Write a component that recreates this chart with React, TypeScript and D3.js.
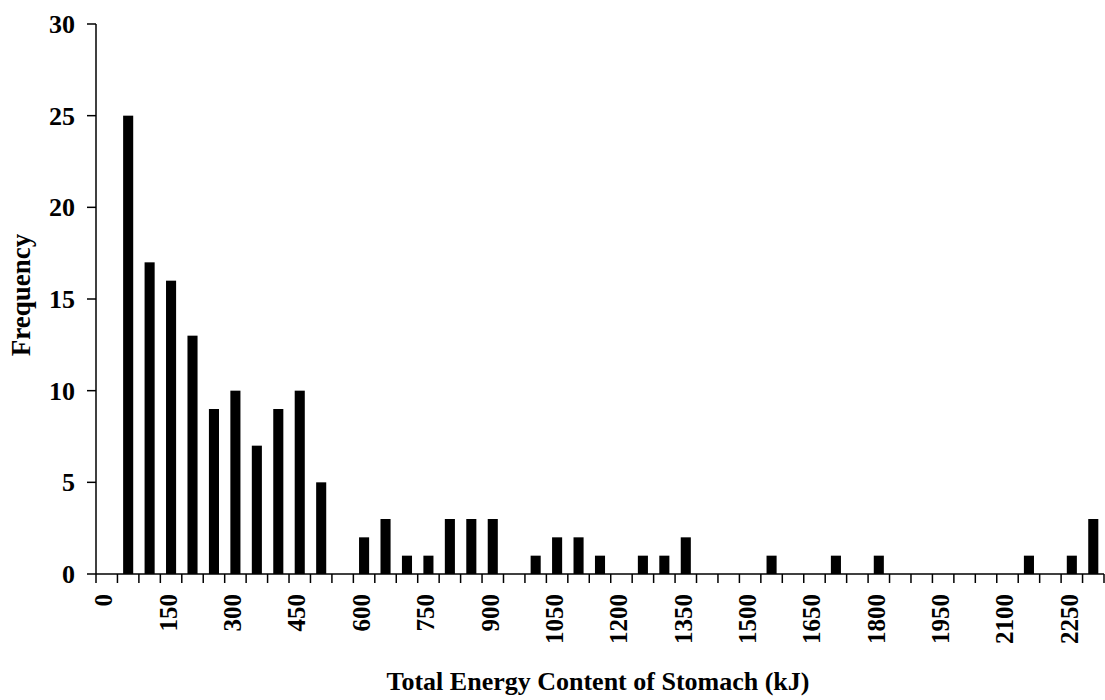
import React from "react";
import * as d3 from "d3";

const categories: number[] = [
  0, 50, 100, 150, 200, 250, 300, 350, 400, 450, 500, 550, 600, 650, 700, 750,
  800, 850, 900, 950, 1000, 1050, 1100, 1150, 1200, 1250, 1300, 1350, 1400,
  1450, 1500, 1550, 1600, 1650, 1700, 1750, 1800, 1850, 1900, 1950, 2000, 2050,
  2100, 2150, 2200, 2250, 2300,
];
const frequencies: number[] = [
  0, 25, 17, 16, 13, 9, 10, 7, 9, 10, 5, 0, 2, 3, 1, 1, 3, 3, 3, 0, 1, 2, 2, 1,
  0, 1, 1, 2, 0, 0, 0, 1, 0, 0, 1, 0, 1, 0, 0, 0, 0, 0, 0, 1, 0, 1, 3,
];
const xTickLabels: number[] = [
  0, 150, 300, 450, 600, 750, 900, 1050, 1200, 1350, 1500, 1650, 1800, 1950,
  2100, 2250,
];
const yTicks: number[] = [0, 5, 10, 15, 20, 25, 30];

const W = 1105;
const H = 700;
const left = 96;
const right = 1104;
const top = 24;
const bottom = 574;
const font = "'Liberation Serif', 'Times New Roman', serif";

export default function App() {
  const x = d3
    .scaleBand<string>()
    .domain(categories.map(String))
    .range([left, right])
    .padding(0);
  const y = d3.scaleLinear().domain([0, 30]).range([bottom, top]);
  const bw = x.bandwidth();
  const barW = bw * 0.47;

  const boundaries = categories.map((c) => x(String(c)) as number).concat([right]);

  return (
    <svg
      width={W}
      height={H}
      style={{ position: "absolute", left: 0, top: 0, background: "#fff" }}
      fontFamily={font}
      fontWeight="bold"
    >
      <rect x={0} y={0} width={W} height={H} fill="#fff" />
      {/* bars */}
      {categories.map((c, i) => {
        const cx = (x(String(c)) as number) + bw / 2;
        const v = frequencies[i];
        if (v <= 0) return null;
        return (
          <rect
            key={c}
            x={cx - barW / 2}
            y={y(v)}
            width={barW}
            height={y(0) - y(v)}
            fill="#000"
          />
        );
      })}
      {/* y axis */}
      <line x1={left} x2={left} y1={top} y2={bottom} stroke="#000" strokeWidth={1.5} />
      {yTicks.map((t) => (
        <g key={t}>
          <line x1={left - 9} x2={left} y1={y(t)} y2={y(t)} stroke="#000" strokeWidth={1.5} />
          <text x={75} y={y(t)} dy="0.35em" textAnchor="end" fontSize={26}>
            {t}
          </text>
        </g>
      ))}
      {/* x axis */}
      <line x1={left} x2={right} y1={bottom} y2={bottom} stroke="#000" strokeWidth={1.5} />
      {boundaries.map((b, i) => (
        <line key={i} x1={b} x2={b} y1={bottom} y2={bottom + 9} stroke="#000" strokeWidth={1.5} />
      ))}
      {xTickLabels.map((t) => {
        const cx = (x(String(t)) as number) + bw / 2 - 3;
        return (
          <text
            key={t}
            transform={`translate(${cx},${594}) rotate(-90)`}
            dy="0.35em"
            textAnchor="end"
            fontSize={25}
          >
            {t}
          </text>
        );
      })}
      {/* titles */}
      <text x={598} y={690} textAnchor="middle" fontSize={26}>
        Total Energy Content of Stomach (kJ)
      </text>
      <text transform={`translate(30,295) rotate(-90)`} textAnchor="middle" fontSize={27}>
        Frequency
      </text>
    </svg>
  );
}
